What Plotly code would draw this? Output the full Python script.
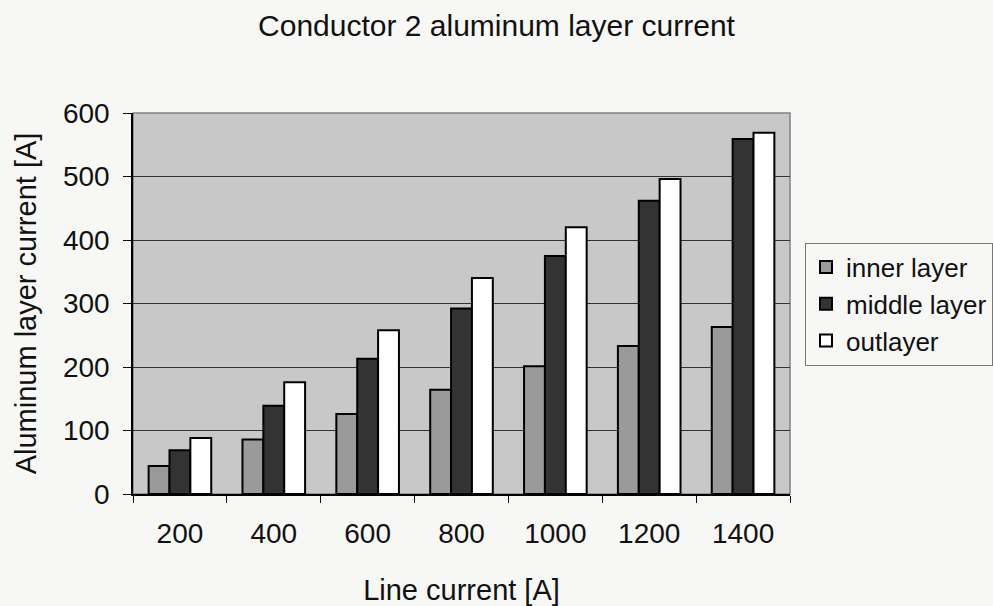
import plotly.graph_objects as go

categories = ["200", "400", "600", "800", "1000", "1200", "1400"]
inner_layer = [44, 86, 126, 164, 201, 233, 263]
middle_layer = [69, 139, 213, 292, 375, 462, 559]
outlayer = [88, 176, 258, 340, 420, 496, 569]
y_ticks = [0, 100, 200, 300, 400, 500, 600]

FONT = "Liberation Sans, Arial, sans-serif"

fig = go.Figure()
for name, vals, color in [
    ("inner layer", inner_layer, "#9a9a9a"),
    ("middle layer", middle_layer, "#333333"),
    ("outlayer", outlayer, "#ffffff"),
]:
    fig.add_trace(go.Bar(
        x=categories, y=vals, name=name,
        marker=dict(color=color, line=dict(color="#000000", width=2)),
    ))

fig.update_layout(
    width=993, height=606,
    margin=dict(l=133, r=203, t=113, b=112, autoexpand=False),
    paper_bgcolor="#f7f7f5",
    plot_bgcolor="#c8c8c8",
    barmode="group",
    bargap=0.333,
    bargroupgap=0,
    font=dict(family=FONT, size=28, color="#111111"),
    title=dict(text="Conductor 2 aluminum layer current", x=0.5, xanchor="center",
               y=1 - 25 / 606, yanchor="middle", yref="container",
               font=dict(size=30, family=FONT, color="#111111")),
    legend=dict(x=(805 - 133) / 657, xanchor="left", y=0.66, yanchor="top",
                bordercolor="#777777", borderwidth=1, bgcolor="rgba(0,0,0,0)",
                font=dict(size=26, family=FONT, color="#111111"),
                tracegroupgap=0),
    showlegend=True,
)
fig.update_xaxes(
    type="category", tickson="boundaries", ticks="outside", ticklen=7,
    tickcolor="#000000", showline=True, linecolor="#000000", linewidth=1.5,
    showgrid=False, tickfont=dict(size=28, family=FONT), ticklabelstandoff=14,
    title=dict(text="Line current [A]", font=dict(size=29, family=FONT), standoff=32),
    mirror=False,
)
fig.update_yaxes(
    range=[0, 600], tickvals=y_ticks, ticks="outside", ticklen=8,
    tickcolor="#000000", showline=True, linecolor="#000000", linewidth=1.5,
    showgrid=True, gridcolor="#333333", gridwidth=1, zeroline=False,
    tickfont=dict(size=28, family=FONT), ticklabelstandoff=8,
    title=dict(text="Aluminum layer current [A]", font=dict(size=29, family=FONT), standoff=18),
)
fig.add_shape(type="rect", xref="paper", yref="paper", x0=0, x1=1, y0=0, y1=1,
              line=dict(color="#808080", width=1.5), layer="below")
fig.write_html("out.html")
